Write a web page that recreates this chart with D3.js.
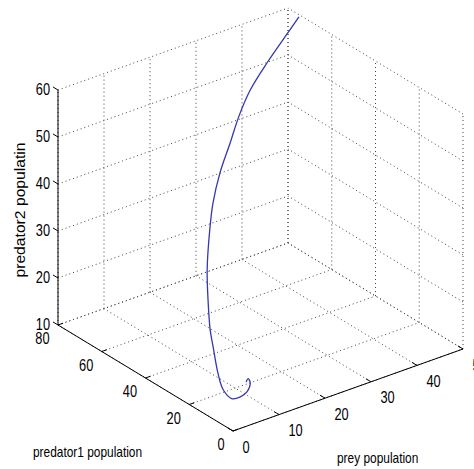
<!DOCTYPE html>
<html>
<head>
<meta charset="utf-8">
<script src="https://cdn.jsdelivr.net/npm/d3@7"></script>
<style>
  html, body { margin: 0; padding: 0; background: #fff; }
  svg { display: block; }
  text { font-family: "Liberation Sans", Arial, sans-serif; fill: #000; }
</style>
</head>
<body>
<svg width="474" height="469"></svg>
<script>
// trajectory (prey, predator1, predator2)
const prey = [50.0, 45.2, 36.9, 29.9, 24.6, 20.3, 15.7, 12.3, 10.2, 7.7, 6.5, 5.5, 5.2, 4.8, 5.0, 6.0, 7.2, 8.5, 9.2, 9.0, 8.7];
const predator1 = [75, 70, 62, 55, 49, 44, 39, 35, 32, 28, 25, 22, 20, 17, 15, 13, 12, 11.5, 11.5, 12, 12.3];
const predator2 = [59.5, 59.2, 58.0, 56.6, 54.6, 51.8, 48.4, 44.4, 40.6, 33.7, 27.9, 23.4, 20.4, 15.9, 12.8, 11.1, 11.3, 12.1, 13.8, 14.6, 13.9];

const xTicks = [0, 10, 20, 30, 40, 50];
const yTicks = [0, 20, 40, 60, 80];
const zTicks = [10, 20, 30, 40, 50, 60];

const svg = d3.select("svg");

// box corners on screen
const O = [233, 431];
const EX = [230, -82];
const EY = [-175, -106];
const EZ = [0, -235];

const xS = d3.scaleLinear().domain([0, 50]).range([0, 1]);
const yS = d3.scaleLinear().domain([0, 80]).range([0, 1]);
const zS = d3.scaleLinear().domain([10, 60]).range([0, 1]);

function proj(x, y, z) {
  const a = xS(x), b = yS(y), c = zS(z);
  return [O[0] + a * EX[0] + b * EY[0] + c * EZ[0],
          O[1] + a * EX[1] + b * EY[1] + c * EZ[1]];
}

// grid segments on the back walls and floor
const grid = [];
xTicks.forEach(x => grid.push([[x, 80, 10], [x, 80, 60]]));
zTicks.forEach(z => grid.push([[0, 80, z], [50, 80, z]]));
yTicks.forEach(y => grid.push([[50, y, 10], [50, y, 60]]));
zTicks.forEach(z => grid.push([[50, 0, z], [50, 80, z]]));
xTicks.forEach(x => grid.push([[x, 0, 10], [x, 80, 10]]));
yTicks.forEach(y => grid.push([[0, y, 10], [50, y, 10]]));

svg.append("g").selectAll("line")
  .data(grid)
  .enter().append("line")
  .attr("x1", d => proj(...d[0])[0])
  .attr("y1", d => proj(...d[0])[1])
  .attr("x2", d => proj(...d[1])[0])
  .attr("y2", d => proj(...d[1])[1])
  .attr("stroke", "#444")
  .attr("stroke-width", 1)
  .attr("stroke-dasharray", "1,3");

// axis lines
const axes = [
  [[0, 80, 10], [0, 80, 60]],
  [[0, 0, 10], [0, 80, 10]],
  [[0, 0, 10], [50, 0, 10]]
];
svg.append("g").selectAll("line")
  .data(axes)
  .enter().append("line")
  .attr("x1", d => proj(...d[0])[0])
  .attr("y1", d => proj(...d[0])[1])
  .attr("x2", d => proj(...d[1])[0])
  .attr("y2", d => proj(...d[1])[1])
  .attr("stroke", "#000")
  .attr("stroke-width", 1);

// tick marks
const ticks = [];
zTicks.forEach(z => ticks.push([[0, 80, z], [0, 82.3, z]]));
yTicks.forEach(y => ticks.push([[0, y, 10], [1.1, y, 10]]));
xTicks.forEach(x => ticks.push([[x, 0, 10], [x, 2.3, 10]]));
svg.append("g").selectAll("line")
  .data(ticks)
  .enter().append("line")
  .attr("x1", d => proj(...d[0])[0])
  .attr("y1", d => proj(...d[0])[1])
  .attr("x2", d => proj(...d[1])[0])
  .attr("y2", d => proj(...d[1])[1])
  .attr("stroke", "#000")
  .attr("stroke-width", 1);

// tick labels
const fs = 16, sx = 0.8;
function label(x, y, str, anchor) {
  svg.append("text")
    .attr("transform", `translate(${x},${y}) scale(${sx},1)`)
    .attr("text-anchor", anchor)
    .style("font-size", fs + "px")
    .text(str);
}
zTicks.forEach(z => {
  const p = proj(0, 80, z);
  label(p[0] - 8, p[1] + 5, z, "end");
});
yTicks.forEach(y => {
  const p = proj(0, y, 10);
  label(p[0] - 8.5, p[1] + 19, y, "end");
});
xTicks.forEach(x => {
  const p = proj(x, 0, 10);
  label(p[0] + 9.5, p[1] + 21.5, x, "start");
});

// axis titles
svg.append("text")
  .attr("transform", `translate(33,457) scale(0.85,1)`)
  .style("font-size", "14px")
  .text("predator1 population");

svg.append("text")
  .attr("transform", `translate(337,463) scale(0.85,1)`)
  .style("font-size", "14px")
  .text("prey population");

svg.append("text")
  .attr("transform", `translate(25,210) rotate(-90) scale(1.12,1)`)
  .attr("text-anchor", "middle")
  .style("font-size", "14px")
  .text("predator2 populatin");

// trajectory
const pts = prey.map((p, i) => proj(p, predator1[i], predator2[i]));
svg.append("path")
  .datum(pts)
  .attr("fill", "none")
  .attr("stroke", "#3636b0")
  .attr("stroke-width", 1.3)
  .attr("d", d3.line().curve(d3.curveCatmullRom.alpha(0.5)));
</script>
</body>
</html>
